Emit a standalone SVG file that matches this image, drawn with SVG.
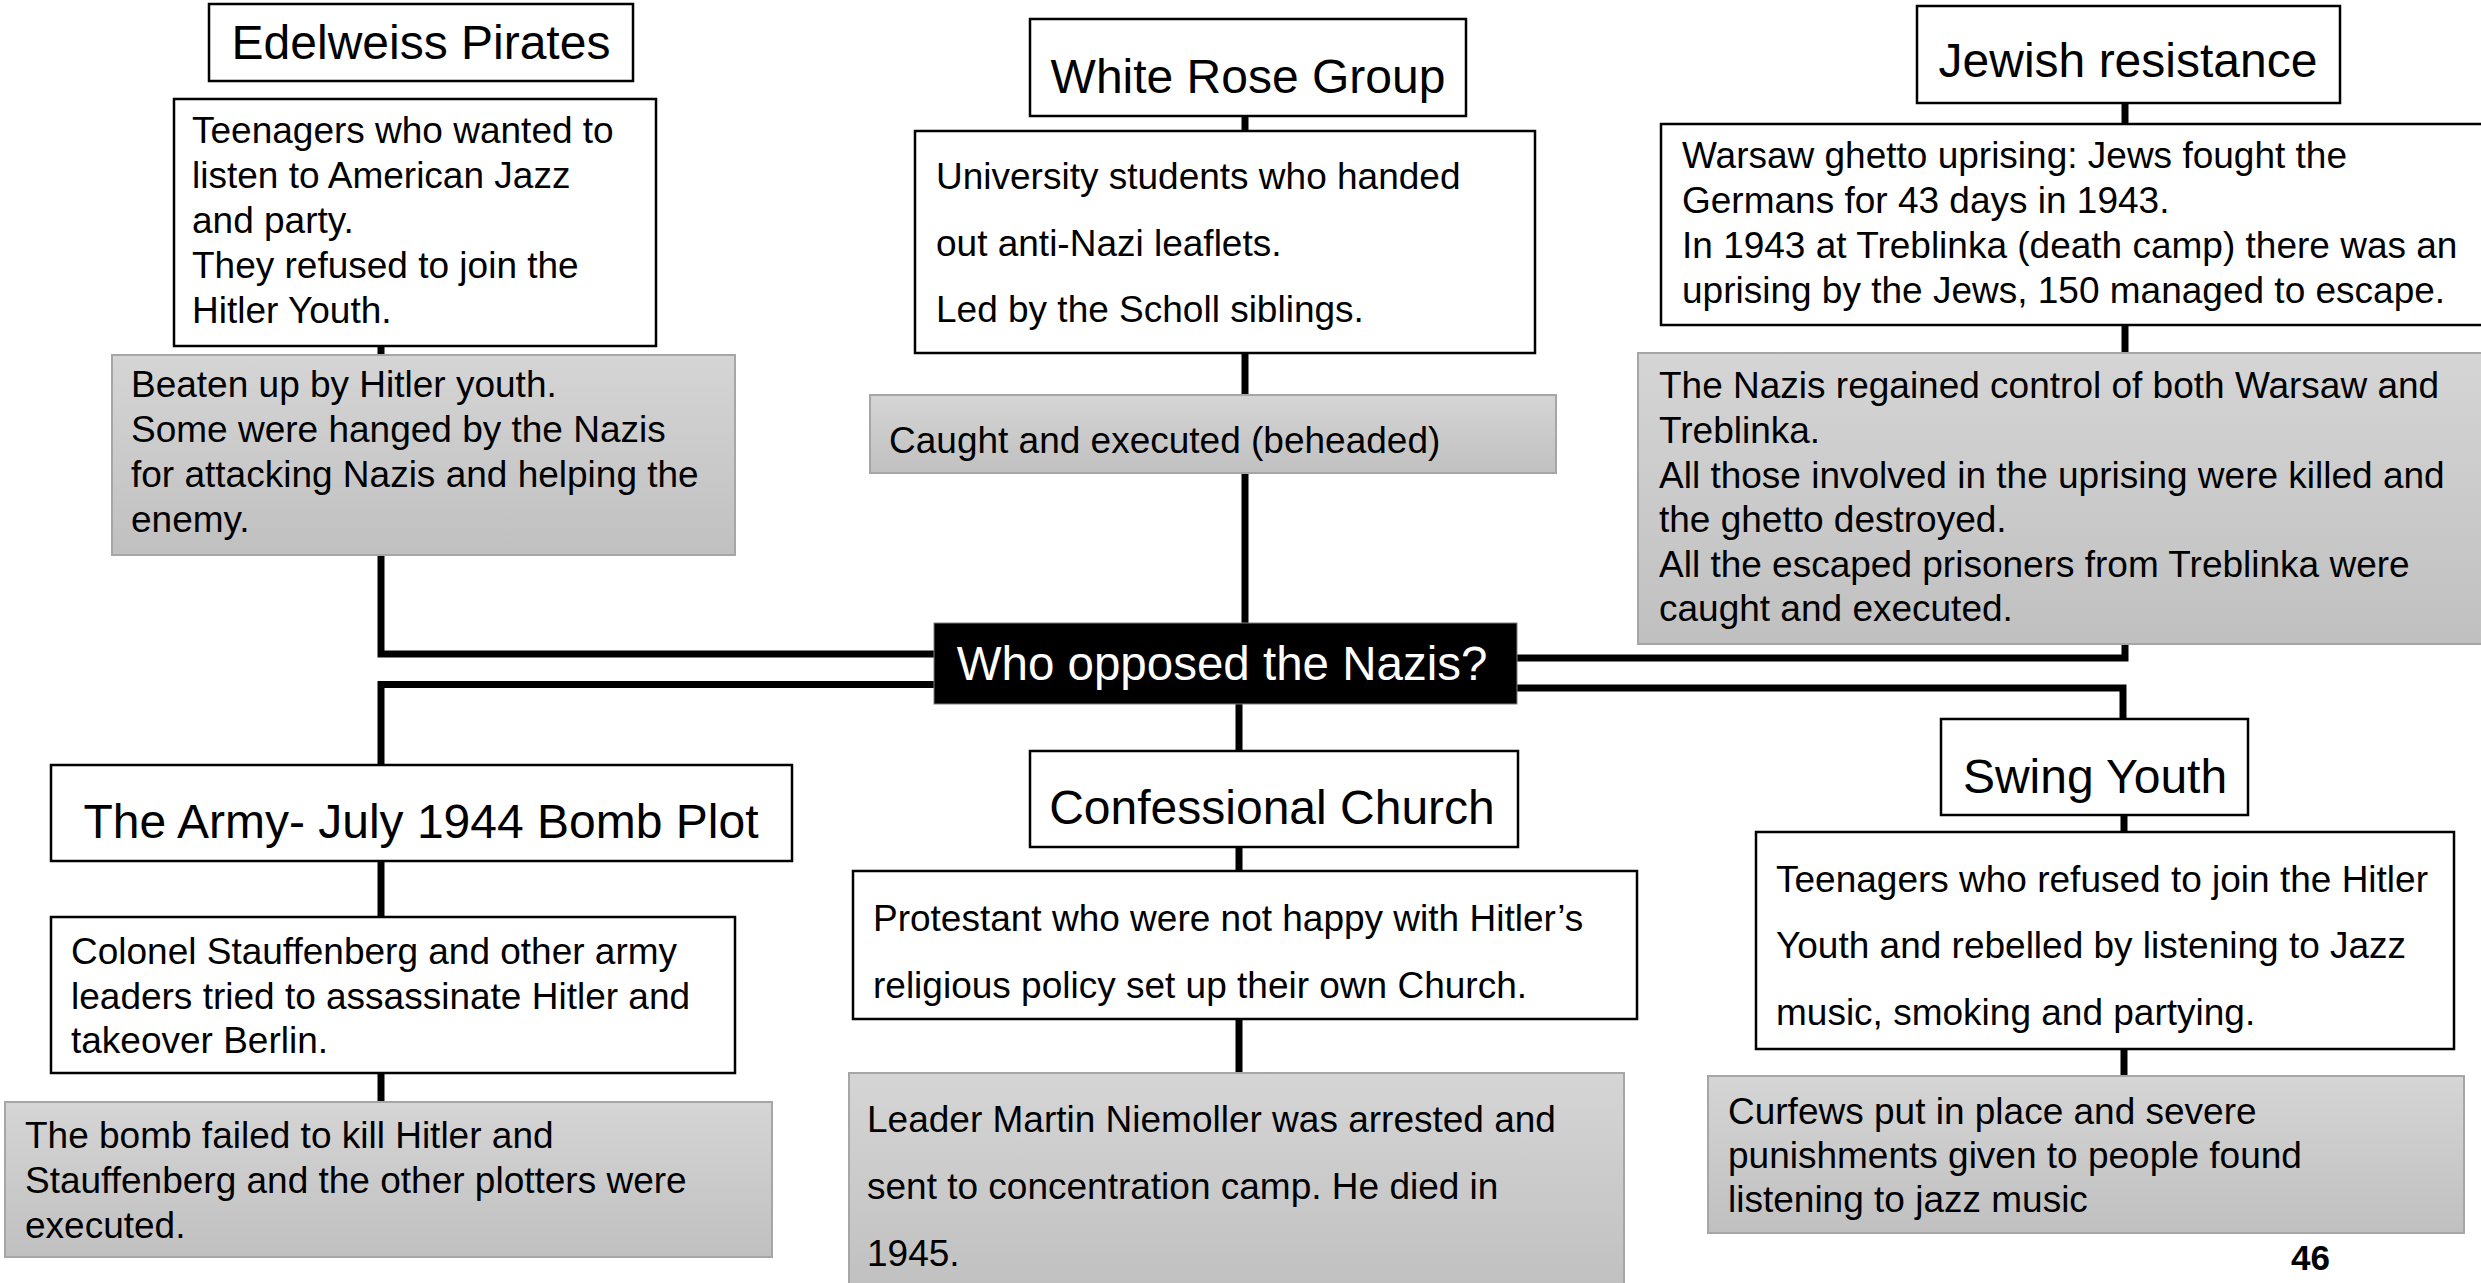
<svg xmlns="http://www.w3.org/2000/svg" width="2481" height="1283" viewBox="0 0 2481 1283">
  <defs>
    <linearGradient id="grey" x1="0" y1="0" x2="0" y2="1">
      <stop offset="0" stop-color="#d5d5d5"/>
      <stop offset="1" stop-color="#c0c0c0"/>
    </linearGradient>
    <style>
      text { font-family: "Liberation Sans", Arial, sans-serif; fill: #000; }
      .title { font-size: 48px; text-anchor: middle; }
      .body { font-size: 37px; }
      .box { fill: #fff; stroke: #000; stroke-width: 2.5; }
      .outcome { fill: url(#grey); stroke: #a6a6a6; stroke-width: 2; }
      .hub { fill: #000; stroke: #7f7f7f; stroke-width: 1; }
      .hub-text { font-size: 47.5px; text-anchor: middle; fill: #fff; }
      .link { fill: none; stroke: #000; stroke-width: 7; stroke-linejoin: miter; stroke-linecap: butt; }
      .page { font-size: 35px; font-weight: bold; }
    </style>
  </defs>

  <rect width="2481" height="1283" fill="#fff"/>

  <!-- connectors drawn first so the boxes sit on top -->
  <g id="connectors">
    <path class="link" d="M381 346 V654 H936"/>
    <path class="link" d="M936 684.5 H381 V765"/>
    <path class="link" d="M381 861 V1102"/>
    <path class="link" d="M1245 116 V625"/>
    <path class="link" d="M1239 703 V1074"/>
    <path class="link" d="M2125 103 V658 H1516"/>
    <path class="link" d="M1516 688 H2123 V719"/>
    <path class="link" d="M2124 815 V1076"/>
  </g>

  <!-- Edelweiss Pirates -->
  <g id="edelweiss-title">
    <rect class="box" x="209" y="4" width="424" height="77"/>
    <text class="title" x="421" y="59">Edelweiss Pirates</text>
  </g>
  <g id="edelweiss-desc">
    <rect class="box" x="174" y="99" width="482" height="247"/>
    <text class="body" x="192" y="143">Teenagers who wanted to</text>
    <text class="body" x="192" y="188">listen to American Jazz</text>
    <text class="body" x="192" y="233">and party.</text>
    <text class="body" x="192" y="278">They refused to join the</text>
    <text class="body" x="192" y="323">Hitler Youth.</text>
  </g>
  <g id="edelweiss-outcome">
    <rect class="outcome" x="112" y="355" width="623" height="200"/>
    <text class="body" x="131" y="397">Beaten up by Hitler youth.</text>
    <text class="body" x="131" y="442">Some were hanged by the Nazis</text>
    <text class="body" x="131" y="487">for attacking Nazis and helping the</text>
    <text class="body" x="131" y="532">enemy.</text>
  </g>

  <!-- White Rose Group -->
  <g id="whiterose-title">
    <rect class="box" x="1030" y="19" width="436" height="97"/>
    <text class="title" x="1248" y="93">White Rose Group</text>
  </g>
  <g id="whiterose-desc">
    <rect class="box" x="915" y="131" width="620" height="222"/>
    <text class="body" x="936" y="189">University students who handed</text>
    <text class="body" x="936" y="256">out anti-Nazi leaflets.</text>
    <text class="body" x="936" y="322">Led by the Scholl siblings.</text>
  </g>
  <g id="whiterose-outcome">
    <rect class="outcome" x="870" y="395" width="686" height="78"/>
    <text class="body" x="889" y="453">Caught and executed (beheaded)</text>
  </g>

  <!-- Jewish resistance -->
  <g id="jewish-title">
    <rect class="box" x="1917" y="6" width="423" height="97"/>
    <text class="title" x="2128" y="77">Jewish resistance</text>
  </g>
  <g id="jewish-desc">
    <rect class="box" x="1661" y="124" width="830" height="201"/>
    <text class="body" x="1682" y="168">Warsaw ghetto uprising: Jews fought the</text>
    <text class="body" x="1682" y="213">Germans for 43 days in 1943.</text>
    <text class="body" x="1682" y="258">In 1943 at Treblinka (death camp) there was an</text>
    <text class="body" x="1682" y="303">uprising by the Jews, 150 managed to escape.</text>
  </g>
  <g id="jewish-outcome">
    <rect class="outcome" x="1638" y="353" width="853" height="291"/>
    <text class="body" x="1659" y="398">The Nazis regained control of both Warsaw and</text>
    <text class="body" x="1659" y="443">Treblinka.</text>
    <text class="body" x="1659" y="488">All those involved in the uprising were killed and</text>
    <text class="body" x="1659" y="532">the ghetto destroyed.</text>
    <text class="body" x="1659" y="577">All the escaped prisoners from Treblinka were</text>
    <text class="body" x="1659" y="621">caught and executed.</text>
  </g>

  <!-- central question -->
  <g id="hub">
    <rect class="hub" x="934" y="623" width="583" height="81"/>
    <text class="hub-text" x="1222" y="680">Who opposed the Nazis?</text>
  </g>

  <!-- The Army - July 1944 Bomb Plot -->
  <g id="army-title">
    <rect class="box" x="51" y="765" width="741" height="96"/>
    <text class="title" x="421" y="838">The Army- July 1944 Bomb Plot</text>
  </g>
  <g id="army-desc">
    <rect class="box" x="51" y="917" width="684" height="156"/>
    <text class="body" x="71" y="964">Colonel Stauffenberg and other army</text>
    <text class="body" x="71" y="1009">leaders tried to assassinate Hitler and</text>
    <text class="body" x="71" y="1053">takeover Berlin.</text>
  </g>
  <g id="army-outcome">
    <rect class="outcome" x="5" y="1102" width="767" height="155"/>
    <text class="body" x="25" y="1148">The bomb failed to kill Hitler and</text>
    <text class="body" x="25" y="1193">Stauffenberg and the other plotters were</text>
    <text class="body" x="25" y="1238">executed.</text>
  </g>

  <!-- Confessional Church -->
  <g id="church-title">
    <rect class="box" x="1030" y="751" width="488" height="96"/>
    <text class="title" x="1272" y="824">Confessional Church</text>
  </g>
  <g id="church-desc">
    <rect class="box" x="853" y="871" width="784" height="148"/>
    <text class="body" x="873" y="931">Protestant who were not happy with Hitler’s</text>
    <text class="body" x="873" y="998">religious policy set up their own Church.</text>
  </g>
  <g id="church-outcome">
    <rect class="outcome" x="849" y="1073" width="775" height="220"/>
    <text class="body" x="867" y="1132">Leader Martin Niemoller was arrested and</text>
    <text class="body" x="867" y="1199">sent to concentration camp. He died in</text>
    <text class="body" x="867" y="1266">1945.</text>
  </g>

  <!-- Swing Youth -->
  <g id="swing-title">
    <rect class="box" x="1941" y="719" width="307" height="96"/>
    <text class="title" x="2095" y="793">Swing Youth</text>
  </g>
  <g id="swing-desc">
    <rect class="box" x="1756" y="832" width="698" height="217"/>
    <text class="body" x="1776" y="892">Teenagers who refused to join the Hitler</text>
    <text class="body" x="1776" y="958">Youth and rebelled by listening to Jazz</text>
    <text class="body" x="1776" y="1025">music, smoking and partying.</text>
  </g>
  <g id="swing-outcome">
    <rect class="outcome" x="1708" y="1076" width="756" height="157"/>
    <text class="body" x="1728" y="1124">Curfews put in place and severe</text>
    <text class="body" x="1728" y="1168">punishments given to people found</text>
    <text class="body" x="1728" y="1212">listening to jazz music</text>
  </g>

  <!-- page number -->
  <text class="page" x="2291" y="1270">46</text>
</svg>
